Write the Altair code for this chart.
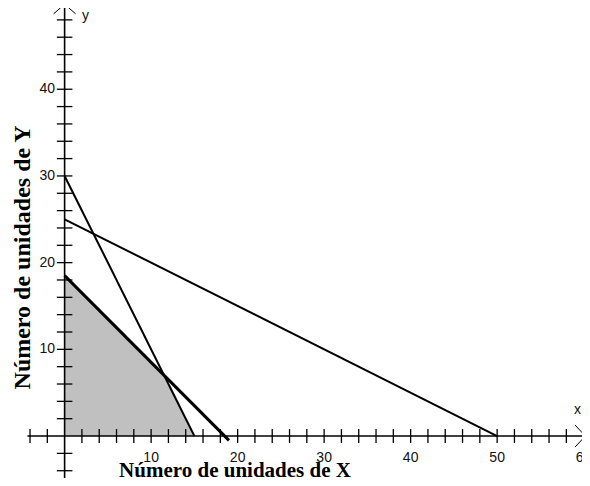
import altair as alt
import pandas as pd

# ---- data ----
# constraint lines (start and end points)
line_names = ["2x+y=30", "x+2y=50", "x+y=18.5"]
line_x1 = [0, 0, 0]
line_y1 = [30, 25, 18.5]
line_x2 = [15, 50, 19]
line_y2 = [0, 0, -0.5]

# feasible region upper boundary (filled down to y = 0)
region_x = [0, 11.5, 15]
region_y = [18.5, 7, 0]

# axis ticks
x_ticks = [-4, -2, 2, 4, 6, 8, 10, 12, 14, 16, 18, 20, 22, 24, 26, 28, 30,
           32, 34, 36, 38, 40, 42, 44, 46, 48, 50, 52, 54, 56, 58]
y_ticks = [-4, -2, 2, 4, 6, 8, 10, 12, 14, 16, 18, 20, 22, 24, 26, 28, 30,
           32, 34, 36, 38, 40, 42, 44, 46, 48]
x_label_values = [10, 20, 30, 40, 50, 60]
x_label_texts = ["10", "20", "30", "40", "50", "60"]
y_label_values = [10, 20, 30, 40]
y_label_texts = ["10", "20", "30", "40"]

x_title = "Número de unidades de X"
y_title = "Número de unidades de Y"

# ---- scales ----
XMIN, XMAX = -6.545, 59.81
YMIN, YMAX = -4.84, 49.37
xs = alt.Scale(domain=[XMIN, XMAX], nice=False, zero=False)
ys = alt.Scale(domain=[YMIN, YMAX], nice=False, zero=False)


def X(field="x"):
    return alt.X(field, type="quantitative", scale=xs, axis=None)


def Y(field="y"):
    return alt.Y(field, type="quantitative", scale=ys, axis=None)


# ---- tables ----
region_df = pd.DataFrame({"x": region_x, "y": region_y, "y0": [0] * len(region_x)})
lines_df = pd.DataFrame({"name": line_names, "x": line_x1, "y": line_y1,
                         "x2": line_x2, "y2": line_y2})

axes_df = pd.DataFrame({"x": [-4.3, 0], "y": [0, YMIN], "x2": [60.2, 0], "y2": [0, 49.8]})
arrows_df = pd.DataFrame({
    "x": [-1.27, 1.27, 59.0, 59.0],
    "y": [48.7, 48.7, 1.27, -1.27],
    "x2": [0, 0, 60.2, 60.2],
    "y2": [49.8, 49.8, 0, 0],
})
xt_df = pd.DataFrame({"x": x_ticks, "y": [-0.8] * len(x_ticks), "x2": x_ticks,
                      "y2": [0.8] * len(x_ticks)})
yt_df = pd.DataFrame({"x": [-0.9] * len(y_ticks), "y": y_ticks,
                      "x2": [0.9] * len(y_ticks), "y2": y_ticks})

xl_df = pd.DataFrame({"x": x_label_values, "y": [-1.75] * len(x_label_values),
                      "t": x_label_texts})
yl_df = pd.DataFrame({"x": [-1.1] * len(y_label_values), "y": y_label_values,
                      "t": y_label_texts})
names_df = pd.DataFrame({"x": [59.3, 2.4], "y": [3.0, 48.5], "t": ["x", "y"]})
xtitle_df = pd.DataFrame({"x": [19.7], "y": [-4.75], "t": [x_title]})
ytitle_df = pd.DataFrame({"x": [-4.85], "y": [20.6], "t": [y_title]})

# ---- layers ----
region = alt.Chart(region_df).mark_area(color="#c0c0c0", opacity=1).encode(
    x=X(), y=Y(), y2="y0:Q")


def rules(df, width):
    return alt.Chart(df).mark_rule(color="black", strokeWidth=width).encode(
        x=X(), y=Y(), x2="x2:Q", y2="y2:Q")


thin_lines = rules(lines_df[lines_df["name"] != "x+y=18.5"], 2)
thick_line = rules(lines_df[lines_df["name"] == "x+y=18.5"], 3)
axes = rules(axes_df, 1.6)
arrows = rules(arrows_df, 1)
xticks = rules(xt_df, 1.3)
yticks = rules(yt_df, 1.3)

xlabels = alt.Chart(xl_df).mark_text(
    font="Liberation Sans", fontSize=14, baseline="top", align="center", color="#111"
).encode(x=X(), y=Y(), text="t:N")
ylabels = alt.Chart(yl_df).mark_text(
    font="Liberation Sans", fontSize=14, baseline="middle", align="right", color="#111"
).encode(x=X(), y=Y(), text="t:N")
names = alt.Chart(names_df).mark_text(
    font="Liberation Sans", fontSize=14, baseline="middle", align="center", color="#111"
).encode(x=X(), y=Y(), text="t:N")
xtitle = alt.Chart(xtitle_df).mark_text(
    font="Liberation Serif", fontSize=21, fontWeight="bold", baseline="alphabetic",
    align="center", color="black"
).encode(x=X(), y=Y(), text="t:N")
ytitle = alt.Chart(ytitle_df).mark_text(
    font="Liberation Serif", fontSize=24, fontWeight="bold", baseline="middle",
    align="center", angle=270, color="black"
).encode(x=X(), y=Y(), text="t:N")

chart = alt.layer(
    region, axes, xticks, yticks, arrows, thin_lines, thick_line,
    xlabels, ylabels, names, xtitle, ytitle
).properties(
    width=574, height=470, padding=0, background="white",
    autosize=alt.AutoSizeParams(type="none")
).configure_view(stroke=None)

chart.save("out.html", embed_options={"renderer": "svg", "actions": False})
